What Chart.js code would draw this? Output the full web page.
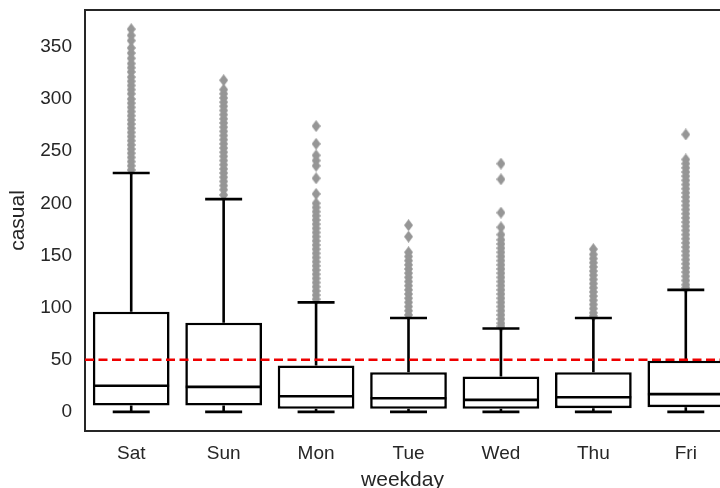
<!DOCTYPE html>
<html>
<head>
<meta charset="utf-8">
<script src="https://cdn.jsdelivr.net/npm/chart.js@4.4.1/dist/chart.umd.min.js"></script>
<style>
  body { margin: 0; background: #fff; overflow: hidden; }
</style>
</head>
<body>
<canvas id="chart-casual" width="720" height="488"></canvas>
<script>
// Daten
var days = ['Sat', 'Sun', 'Mon', 'Tue', 'Wed', 'Thu', 'Fri'];
var q1 = [6, 6, 3, 3, 3, 3.5, 4.5];
var median = [25, 24, 15, 13, 11.5, 14, 17];
var q3 = [96, 85.5, 44.5, 38, 34, 38, 49];
var whiskLo = [0, 0, 0, 0, 0, 0, 0];
var whiskHi = [229, 204, 105, 90, 80, 90, 117];
var outSat = [367, 361, 356, 349, 344, 339, 334, 330, 326, 321, 317, 313, 309, 305, 300, 296, 292, 288, 284, 280, 276, 272, 268, 264, 260, 256, 252, 248, 244, 240, 236, 232];
var outSun = [318, 309, 305, 301, 297, 293, 289, 285, 281, 277, 273, 269, 265, 261, 257, 253, 249, 245, 241, 237, 233, 229, 225, 221, 217, 213, 208];
var outMon = [274, 257, 246, 241, 236, 224, 209, 200, 196, 192, 188, 184, 180, 176, 172, 168, 164, 160, 156, 152, 148, 144, 140, 136, 132, 128, 124, 120, 116, 112, 108];
var outTue = [179, 168, 153, 149, 145, 141, 137, 133, 129, 125, 121, 117, 113, 109, 105, 101, 97, 93];
var outWed = [238, 223, 191, 177, 170, 165, 161, 157, 153, 149, 145, 141, 137, 133, 129, 125, 121, 117, 113, 109, 105, 101, 97, 93, 89, 85, 82];
var outThu = [156, 151, 147, 143, 139, 135, 131, 127, 123, 119, 115, 111, 107, 103, 99, 95, 92];
var outFri = [266, 242, 238, 234, 230, 226, 222, 218, 214, 210, 206, 202, 198, 194, 190, 186, 182, 178, 174, 170, 166, 162, 158, 154, 150, 146, 142, 138, 134, 130, 126, 122, 119];
var outliers = [outSat, outSun, outMon, outTue, outWed, outThu, outFri];
var refLine = 50;
var yTicks = [0, 50, 100, 150, 200, 250, 300, 350];

var xMin = -0.5, xMax = 6.37;   // Bild ist rechts abgeschnitten
var yMin = -18.35, yMax = 385.35;
var ink = '#262626';
var font = "'Liberation Sans', Arial, sans-serif";

// Raute als Punktsymbol
var diamond = document.createElement('canvas');
diamond.width = 9;
diamond.height = 12;
var dctx = diamond.getContext('2d');
dctx.fillStyle = 'rgb(150,150,150)';
dctx.beginPath();
dctx.moveTo(4.5, 0);
dctx.lineTo(9, 6);
dctx.lineTo(4.5, 12);
dctx.lineTo(0, 6);
dctx.closePath();
dctx.fill();

// Segmente aufbauen
var medianPts = [], whiskPts = [], capPts = [], boxPts = [], outPts = [];
for (var i = 0; i < days.length; i++) {
    boxPts.push({x: i, y: [q1[i], q3[i]]});
    medianPts.push({x: i - 0.41, y: median[i]}, {x: i + 0.41, y: median[i]}, {x: i, y: null});
    whiskPts.push({x: i, y: q3[i]}, {x: i, y: whiskHi[i]}, {x: i, y: null});
    whiskPts.push({x: i, y: q1[i]}, {x: i, y: whiskLo[i]}, {x: i, y: null});
    capPts.push({x: i - 0.2, y: whiskHi[i]}, {x: i + 0.2, y: whiskHi[i]}, {x: i, y: null});
    capPts.push({x: i - 0.2, y: whiskLo[i]}, {x: i + 0.2, y: whiskLo[i]}, {x: i, y: null});
    for (var j = 0; j < outliers[i].length; j++) {
        outPts.push({x: i, y: outliers[i][j]});
    }
}

var lineDs = (data) => ({
    type: 'line',
    data: data,
    borderColor: '#000',
    borderWidth: 2.6,
    pointRadius: 0,
    fill: false,
    spanGaps: false,
    tension: 0
});

// obere Achsenlinie
var topSpine = {
    id: 'topSpine',
    afterDraw: (chart) => {
        var a = chart.chartArea, ctx = chart.ctx;
        ctx.save();
        ctx.strokeStyle = ink;
        ctx.lineWidth = 2;
        ctx.beginPath();
        ctx.moveTo(a.left - 1, a.top);
        ctx.lineTo(a.right, a.top);
        ctx.stroke();
        ctx.restore();
    }
};

var config = {
    type: 'bar',
    data: {
        datasets: [
            {
                type: 'line',
                data: [{x: xMin, y: refLine}, {x: xMax, y: refLine}],
                borderColor: '#ee0000',
                borderWidth: 2.6,
                borderDash: [9, 4.5],
                pointRadius: 0,
                fill: false
            },
            lineDs(medianPts),
            lineDs(capPts),
            lineDs(whiskPts),
            {
                type: 'scatter',
                data: outPts,
                pointStyle: diamond,
                pointRadius: 5
            },
            {
                type: 'bar',
                data: boxPts,
                backgroundColor: '#fff',
                borderColor: '#000',
                borderWidth: 2.6,
                borderSkipped: false,
                categoryPercentage: 0.83,
                barPercentage: 1.0
            }
        ]
    },
    options: {
        responsive: false,
        animation: false,
        layout: {padding: {top: 10, right: 0, left: 0, bottom: 0}, autoPadding: false},
        plugins: {legend: {display: false}, tooltip: {enabled: false}},
        scales: {
            x: {
                type: 'linear',
                min: xMin,
                max: xMax,
                offset: false,
                afterBuildTicks: (scale) => { scale.ticks = days.map((d, k) => ({value: k})); },
                afterFit: (scale) => {
                    scale.height = 57;
                    scale.paddingLeft = 0;
                    scale.paddingRight = 0;
                },
                grid: {display: false, drawTicks: false},
                border: {display: true, color: ink, width: 2},
                ticks: {
                    callback: (v) => days[v],
                    color: ink,
                    font: {family: font, size: 19},
                    padding: 11,
                    maxRotation: 0
                },
                title: {display: true, text: 'weekday', color: ink, font: {family: font, size: 21}, padding: {top: 0, bottom: -5}}
            },
            y: {
                min: yMin,
                max: yMax,
                afterBuildTicks: (scale) => { scale.ticks = yTicks.map((v) => ({value: v})); },
                afterFit: (scale) => {
                    scale.width = 85;
                    scale.paddingTop = 0;
                    scale.paddingBottom = 0;
                },
                grid: {display: false, drawTicks: false},
                border: {display: true, color: ink, width: 2},
                ticks: {color: ink, font: {family: font, size: 19}, padding: 13},
                title: {display: true, text: 'casual', color: ink, font: {family: font, size: 21}, padding: {top: 6, bottom: 0}}
            }
        }
    },
    plugins: [topSpine]
};

var context = document.getElementById('chart-casual').getContext('2d');
var chart1 = new Chart(context, config);
</script>
</body>
</html>
